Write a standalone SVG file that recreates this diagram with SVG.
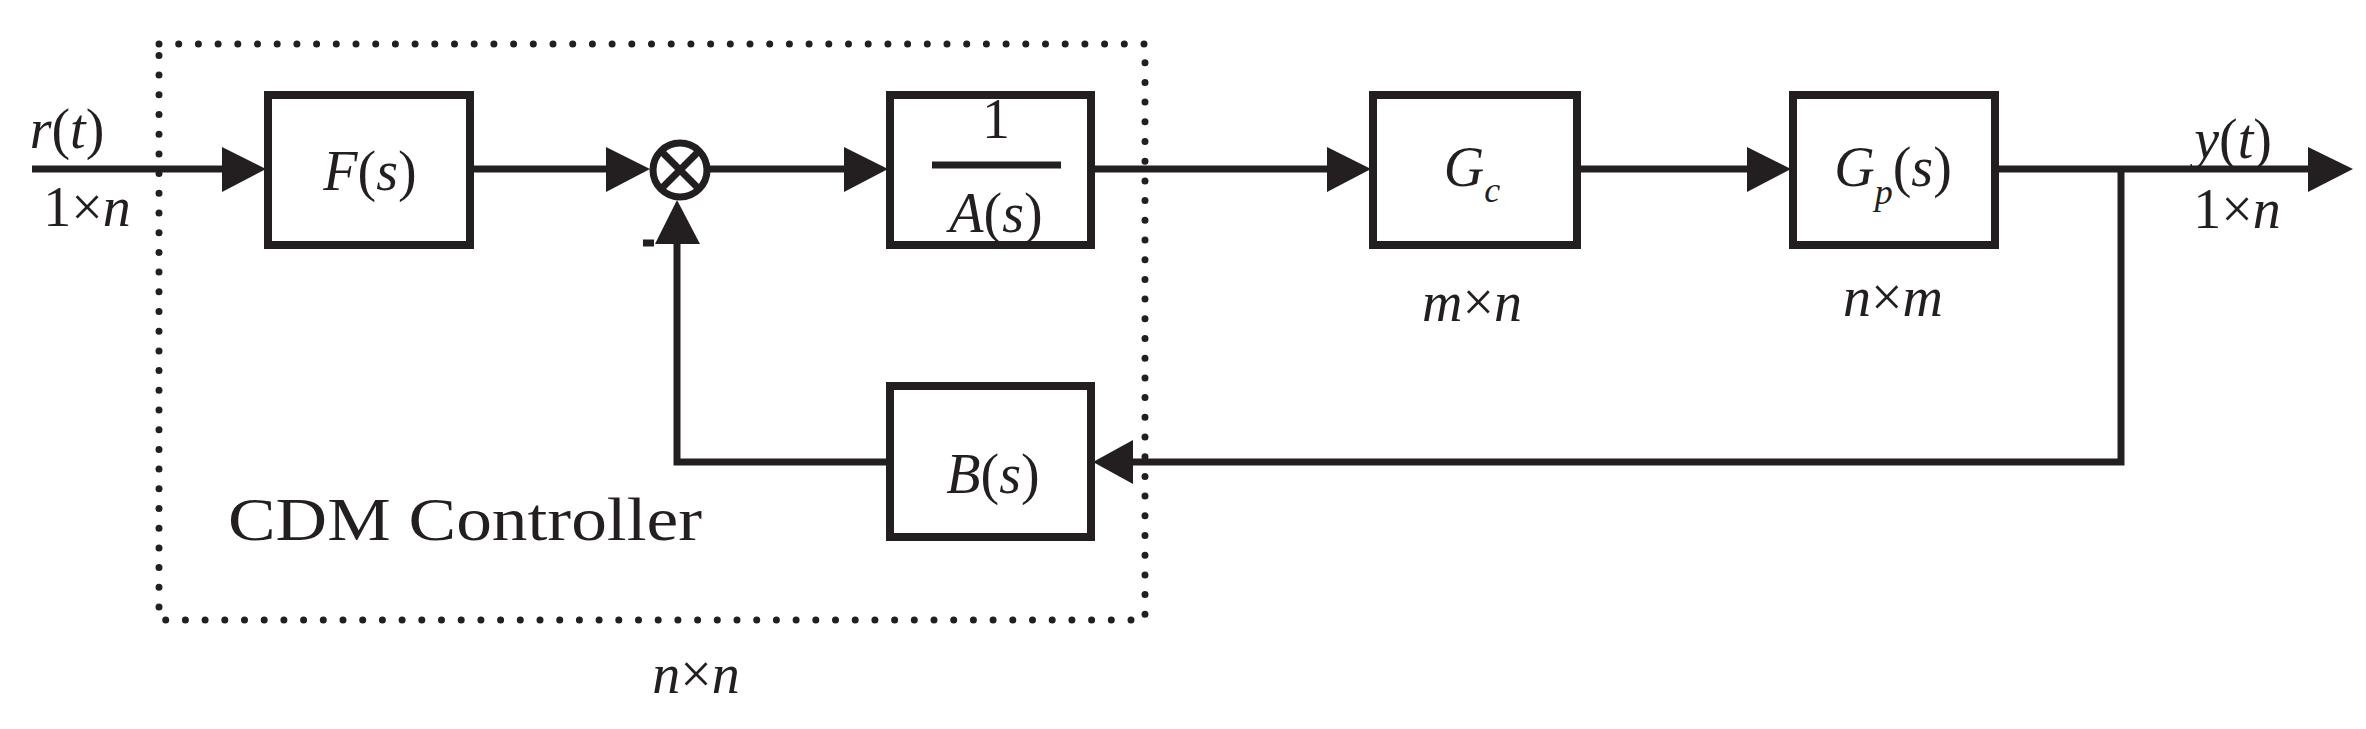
<svg xmlns="http://www.w3.org/2000/svg" width="2366" height="729" viewBox="0 0 2366 729">
<style>
.box{fill:none;stroke:#231f20;stroke-width:8}
.ln{fill:none;stroke:#231f20;stroke-width:7}
.ar{fill:#231f20}
text{font-family:"Liberation Serif",serif;fill:#231f20}
.i{font-style:italic}
.m{font-size:56px;text-anchor:middle}
</style>
<rect width="2366" height="729" fill="#fff"/>
<rect x="159" y="44" width="986" height="576" fill="none" stroke="#231f20" stroke-width="7" stroke-linecap="round" stroke-dasharray="0 19.7"/>
<g id="connectors">
<path class="ln" d="M32 169H228M472 169H612M710 169H852M1091 169H1333M1577 169H1753M1995 169H2310M2121 169V462H1130M890 462H677V240M643 243H654"/>
<polygon class="ar" points="222,147 266,169 222,192"/>
<polygon class="ar" points="606,147 650,169 606,192"/>
<polygon class="ar" points="844,147 888,169 844,192"/>
<polygon class="ar" points="1327,147 1371,169 1327,192"/>
<polygon class="ar" points="1747,147 1791,169 1747,192"/>
<polygon class="ar" points="2308,147 2353,169 2308,192"/>
<polygon class="ar" points="1133,440 1093,462 1133,484"/>
<polygon class="ar" points="655,244 677,200 700,244"/>
</g>
<g id="sum"><circle cx="680" cy="170" r="27" fill="#fff" stroke="#231f20" stroke-width="7"/><path class="ln" d="M661 151L699 189M699 151L661 189" stroke-width="6"/></g>
<g id="F"><rect class="box" x="268" y="95" width="202" height="150"/><text class="m" x="370" y="190"><tspan class="i">F</tspan>(<tspan class="i">s</tspan>)</text></g>
<g id="A"><rect class="box" x="890" y="95" width="201" height="150"/><text class="m" x="996" y="138">1</text><path class="ln" d="M932 165H1061" stroke-width="4"/><text class="m" x="996" y="232"><tspan class="i">A</tspan>(<tspan class="i">s</tspan>)</text></g>
<g id="B"><rect class="box" x="890" y="386" width="201" height="151"/><text class="m" x="993" y="493"><tspan class="i">B</tspan>(<tspan class="i">s</tspan>)</text></g>
<g id="Gc"><rect class="box" x="1373" y="95" width="204" height="150"/><text class="m i" x="1472" y="186">G<tspan font-size="36" dy="16">c</tspan></text><text class="m i" x="1472" y="321">m<tspan font-style="normal">×</tspan>n</text></g>
<g id="Gp"><rect class="box" x="1793" y="95" width="202" height="150"/><text class="m" x="1893" y="186"><tspan class="i">G</tspan><tspan class="i" font-size="36" dy="18">p</tspan><tspan dy="-18">(</tspan><tspan class="i">s</tspan>)</text><text class="m i" x="1893" y="316">n<tspan font-style="normal">×</tspan>m</text></g>
<g id="labels">
<text class="m" x="67" y="148"><tspan class="i">r</tspan>(<tspan class="i">t</tspan>)</text>
<text class="m" x="87" y="226">1×<tspan class="i">n</tspan></text>
<text class="m" x="2233" y="158"><tspan class="i">y</tspan>(<tspan class="i">t</tspan>)</text>
<text class="m" x="2237" y="228">1×<tspan class="i">n</tspan></text>
<text x="228" y="540" font-size="62" textLength="474" lengthAdjust="spacingAndGlyphs">CDM Controller</text>
<text class="m i" x="696" y="693">n<tspan font-style="normal">×</tspan>n</text>
</g>
</svg>
